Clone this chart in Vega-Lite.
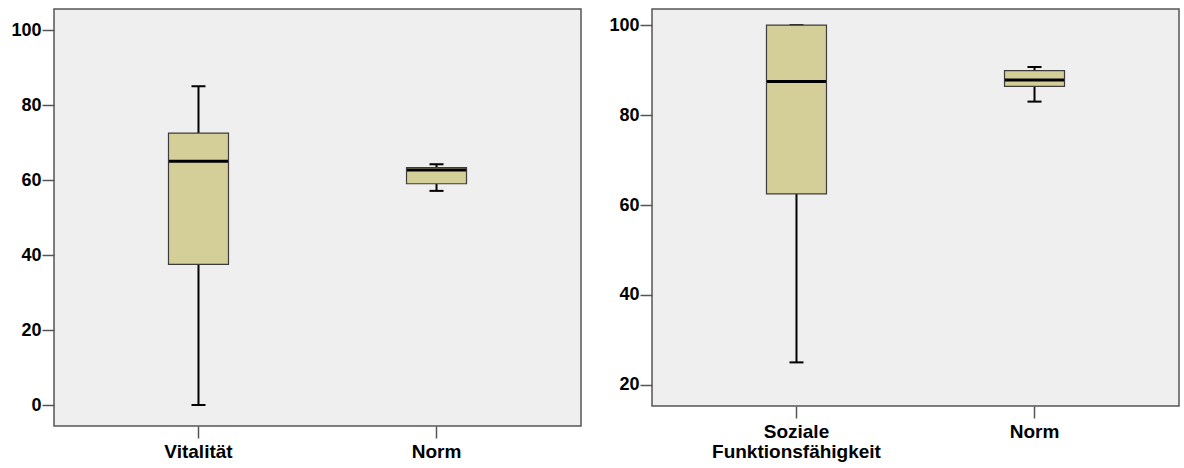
{
  "$schema": "https://vega.github.io/schema/vega-lite/v6.json",
  "padding": {"left": 10, "top": 8, "right": 4, "bottom": 0},
  "background": "white",
  "datasets": {
    "stats": [
      {"panel": "A", "gruppe": "Vitalität", "min": 0, "q1": 37.5, "median": 65, "q3": 72.5, "max": 85},
      {"panel": "A", "gruppe": "Norm", "min": 57.1, "q1": 59, "median": 62.7, "q3": 63.3, "max": 64.2},
      {"panel": "B", "gruppe": "Soziale Funktionsfähigkeit", "min": 25, "q1": 62.5, "median": 87.5, "q3": 100, "max": 100},
      {"panel": "B", "gruppe": "Norm", "min": 83, "q1": 86.4, "median": 87.8, "q3": 89.9, "max": 90.7}
    ]
  },
  "config": {
    "view": {"fill": "#efefef", "stroke": "#555555", "strokeWidth": 1.5},
    "font": "Liberation Sans",
    "axis": {
      "labelFont": "Liberation Sans",
      "labelFontWeight": "bold",
      "labelColor": "#000000",
      "tickColor": "#555555",
      "tickWidth": 1.5,
      "domain": false,
      "grid": false
    },
    "axisX": {"labelFontSize": 19, "tickSize": 12, "labelPadding": 4},
    "axisY": {"labelFontSize": 18, "tickSize": 12, "labelPadding": 1}
  },
  "spacing": 26,
  "hconcat": [
    {
      "width": 527,
      "height": 417,
      "data": {"name": "stats"},
      "transform": [{"filter": "datum.panel === 'A'"}],
      "encoding": {
        "x": {
          "field": "gruppe", "type": "nominal", "sort": ["Vitalität", "Norm"], "title": null,
          "scale": {"paddingInner": 0, "paddingOuter": 0.107},
          "axis": {"labelAngle": 0}
        }
      },
      "layer": [
        {
          "mark": {"type": "rule", "color": "#000000", "strokeWidth": 2},
          "encoding": {
            "y": {"field": "min", "type": "quantitative", "title": null,
                  "scale": {"domain": [-5.6, 105.6], "nice": false, "zero": false},
                  "axis": {"values": [0, 20, 40, 60, 80, 100]}},
            "y2": {"field": "q1"}
          }
        },
        {
          "mark": {"type": "rule", "color": "#000000", "strokeWidth": 2},
          "encoding": {
            "y": {"field": "q3", "type": "quantitative", "title": null},
            "y2": {"field": "max"}
          }
        },
        {
          "mark": {"type": "tick", "size": 14, "thickness": 2, "color": "#000000", "opacity": 1},
          "encoding": {"y": {"field": "min", "type": "quantitative", "title": null}}
        },
        {
          "mark": {"type": "tick", "size": 14, "thickness": 2, "color": "#000000", "opacity": 1},
          "encoding": {"y": {"field": "max", "type": "quantitative", "title": null}}
        },
        {
          "mark": {"type": "bar", "size": 60, "fill": "#d4cf98", "stroke": "#3c3c3c", "strokeWidth": 1.2},
          "encoding": {
            "y": {"field": "q1", "type": "quantitative", "title": null},
            "y2": {"field": "q3"}
          }
        },
        {
          "mark": {"type": "tick", "size": 59, "thickness": 3, "color": "#000000", "opacity": 1},
          "encoding": {"y": {"field": "median", "type": "quantitative", "title": null}}
        }
      ]
    },
    {
      "width": 527,
      "height": 397,
      "data": {"name": "stats"},
      "transform": [{"filter": "datum.panel === 'B'"}],
      "encoding": {
        "x": {
          "field": "gruppe", "type": "nominal", "sort": ["Soziale Funktionsfähigkeit", "Norm"], "title": null,
          "scale": {"paddingInner": 0, "paddingOuter": 0.107},
          "axis": {
            "labelAngle": 0, "labelLineHeight": 20,
            "labelExpr": "datum.label === 'Soziale Funktionsfähigkeit' ? ['Soziale', 'Funktionsfähigkeit'] : datum.label"
          }
        }
      },
      "layer": [
        {
          "mark": {"type": "rule", "color": "#000000", "strokeWidth": 2},
          "encoding": {
            "y": {"field": "min", "type": "quantitative", "title": null,
                  "scale": {"domain": [15.3, 103.6], "nice": false, "zero": false},
                  "axis": {"values": [20, 40, 60, 80, 100]}},
            "y2": {"field": "q1"}
          }
        },
        {
          "mark": {"type": "rule", "color": "#000000", "strokeWidth": 2},
          "encoding": {
            "y": {"field": "q3", "type": "quantitative", "title": null},
            "y2": {"field": "max"}
          }
        },
        {
          "mark": {"type": "tick", "size": 14, "thickness": 2, "color": "#000000", "opacity": 1},
          "encoding": {"y": {"field": "min", "type": "quantitative", "title": null}}
        },
        {
          "mark": {"type": "tick", "size": 14, "thickness": 2, "color": "#000000", "opacity": 1},
          "encoding": {"y": {"field": "max", "type": "quantitative", "title": null}}
        },
        {
          "mark": {"type": "bar", "size": 60, "fill": "#d4cf98", "stroke": "#3c3c3c", "strokeWidth": 1.2},
          "encoding": {
            "y": {"field": "q1", "type": "quantitative", "title": null},
            "y2": {"field": "q3"}
          }
        },
        {
          "mark": {"type": "tick", "size": 59, "thickness": 3, "color": "#000000", "opacity": 1},
          "encoding": {"y": {"field": "median", "type": "quantitative", "title": null}}
        }
      ]
    }
  ]
}
